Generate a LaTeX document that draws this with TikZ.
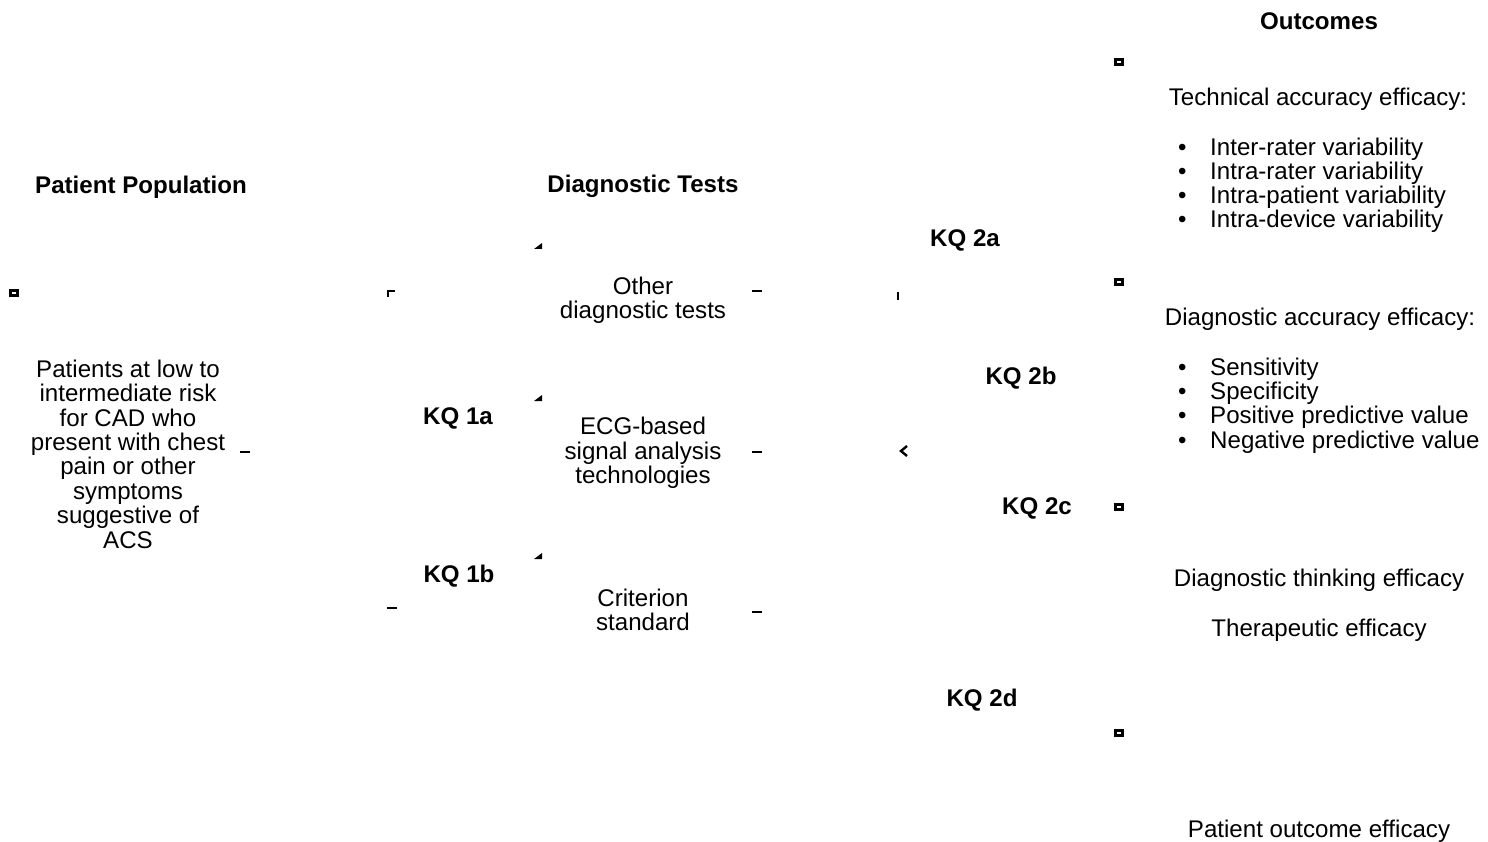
\documentclass[tikz,border=0pt]{standalone}
\usepackage{fontspec}
\setmainfont{Liberation Sans}
\begin{document}
\begin{tikzpicture}[x=1pt,y=-1pt,
  txt/.style={inner sep=0pt,align=center,font=\fontsize{24.1}{24.4}\selectfont},
  hd/.style={txt,font=\fontsize{24.1}{24.4}\selectfont\bfseries},
  lst/.style={inner sep=0pt,anchor=base west,font=\fontsize{24.1}{24.4}\selectfont},
  sq/.style={draw,line width=2.2pt,minimum width=7pt,minimum height=5pt,inner sep=0pt},
  dashmark/.style={line width=2.6pt},
  markln/.style={line width=2.6pt}]
\useasboundingbox (0,0) rectangle (1488,842);
% headings
\node[hd] (outc) at (1319,21) {Outcomes};
\node[hd] (ppop) at (141,187) {Patient Population};
\node[hd] (dtests) at (643,186) {Diagnostic Tests};
% patients
\node[txt] (pat) at (128,454) {Patients at low to\\intermediate risk\\for CAD who\\present with chest\\pain or other\\symptoms\\suggestive of\\ACS};
% tests
\node[txt] (other) at (643,300) {Other\\diagnostic tests};
\node[txt] (ecg) at (643,453) {ECG-based\\signal analysis\\technologies};
\node[txt] (crit) at (643,610) {Criterion\\standard};
% KQ labels
\node[hd] (kq1a) at (458,418) {KQ 1a};
\node[hd] (kq1b) at (459,576) {KQ 1b};
\node[hd] (kq2a) at (965,240) {KQ 2a};
\node[hd] (kq2b) at (1021,378) {KQ 2b};
\node[hd] (kq2c) at (1037,508) {KQ 2c};
\node[hd] (kq2d) at (982,700) {KQ 2d};
% outcomes
\node[txt] (tech) at (1318,99) {Technical accuracy efficacy:};
\node[txt] (diag) at (1320,319) {Diagnostic accuracy efficacy:};
\node[txt] (think) at (1319,580) {Diagnostic thinking efficacy};
\node[txt] (ther) at (1319,630) {Therapeutic efficacy};
\node[txt] (pout) at (1319,831) {Patient outcome efficacy};
\foreach \t [count=\i] in {Inter-rater variability,Intra-rater variability,Intra-patient variability,Intra-device variability}{
  \node[lst] (tb\i) at (1178,{146+10+(\i-1)*24}) {\textbullet};
  \node[lst] (tl\i) at (1210,{146+10+(\i-1)*24}) {\t};
}
\foreach \t [count=\i] in {Sensitivity,Specificity,Positive predictive value,Negative predictive value}{
  \node[lst] (db\i) at (1178,{365+10+(\i-1)*24.4}) {\textbullet};
  \node[lst] (dl\i) at (1210,{365+10+(\i-1)*24.4}) {\t};
}
% small residual marks
\node[sq] (s1) at (14,293) {};
\node[sq] (s2) at (1119,62) {};
\node[sq] (s3) at (1119,282) {};
\node[sq] (s4) at (1119,507) {};
\node[sq] (s5) at (1119,733) {};
\draw[markln] (388,297) -- (388,291) -- (395,291);
\foreach \y in {246,398,556}{
  \fill (534,{\y+3}) -- (542,{\y+3}) -- (542,{\y-3}) -- cycle;
}
\foreach \x/\y in {757/291,757/452,757/612,245/452,392/608}{
  \draw[dashmark] ({\x-5},\y) -- ({\x+5},\y);
}
\draw[markln] (898,292) -- (898,300);
\draw[line width=2.4pt] (907,446) -- (901,451) -- (907,456);
\end{tikzpicture}
\end{document}
